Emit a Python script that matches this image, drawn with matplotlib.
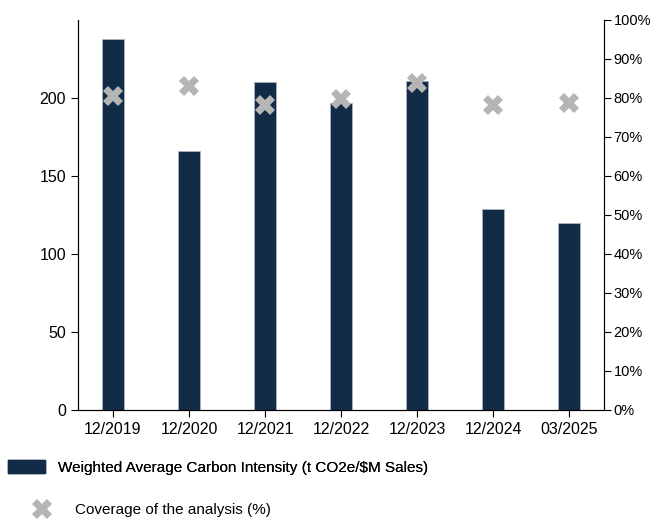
import matplotlib.pyplot as plt
from matplotlib.patches import Patch
from matplotlib.lines import Line2D
from matplotlib.ticker import PercentFormatter

periods = ["12/2019", "12/2020", "12/2021", "12/2022", "12/2023", "12/2024", "03/2025"]
intensity = [238, 166, 210, 197, 211, 129, 120]
coverage = [80.5, 83.2, 78.3, 79.7, 83.8, 78.3, 78.6]

bar_color = "#122b47"
marker_color = "#b5b5b5"

plt.rcParams["font.family"] = ["Liberation Sans Narrow", "Liberation Sans", "DejaVu Sans"]
plt.rcParams["font.size"] = 11


def draw():
    """Bars for intensity, crosses for coverage on a second axis"""
    fig = plt.figure(figsize=(6.54, 5.22), dpi=100)
    ax = fig.add_axes([0.1193, 0.2146, 0.8042, 0.7471])
    x = range(len(periods))
    ax.bar(x, intensity, width=0.3, color=bar_color, edgecolor="#a9b4c2", linewidth=0.6)
    ax.set_xlim(-0.46, len(periods) - 0.54)
    ax.set_ylim(0, 250)
    ax.set_yticks([0, 50, 100, 150, 200])
    ax.set_xticks(list(x))
    ax.set_xticklabels(periods)
    ax.spines["top"].set_visible(False)
    ax.tick_params(axis="both", direction="out", length=5, width=0.8, labelsize=11.5)

    ax2 = ax.twinx()
    ax2.plot(x, coverage, linestyle="none", marker="X", markersize=14,
             color=marker_color, markeredgewidth=0)
    ax2.set_ylim(0, 100)
    ax2.set_yticks(range(0, 101, 10))
    ax2.yaxis.set_major_formatter(PercentFormatter(decimals=0))
    ax2.spines["top"].set_visible(False)
    ax2.tick_params(axis="y", direction="out", length=5, width=0.8, labelsize=10.5, pad=2)

    leg1 = fig.legend(handles=[Patch(facecolor=bar_color, edgecolor=bar_color)],
                      labels=["Weighted Average Carbon Intensity (t CO2e/$M Sales)"],
                      loc="center left", bbox_to_anchor=(0.0122, 0.105), frameon=False,
                      borderpad=0, borderaxespad=0,
                      handlelength=2.42, handleheight=0.95, handletextpad=0.85, fontsize=11)
    fig.add_artist(leg1)
    fig.legend(handles=[Line2D([], [], linestyle="none", marker="X", markersize=14,
                               color=marker_color, markeredgewidth=0)],
               labels=["Coverage of the analysis (%)"],
               loc="center left", bbox_to_anchor=(0.0408, 0.023), frameon=False,
               borderpad=0, borderaxespad=0,
               handlelength=2.0, handletextpad=1.16, fontsize=11)
    fig.savefig("out.png", dpi=100)


if __name__ == "__main__":
    draw()
